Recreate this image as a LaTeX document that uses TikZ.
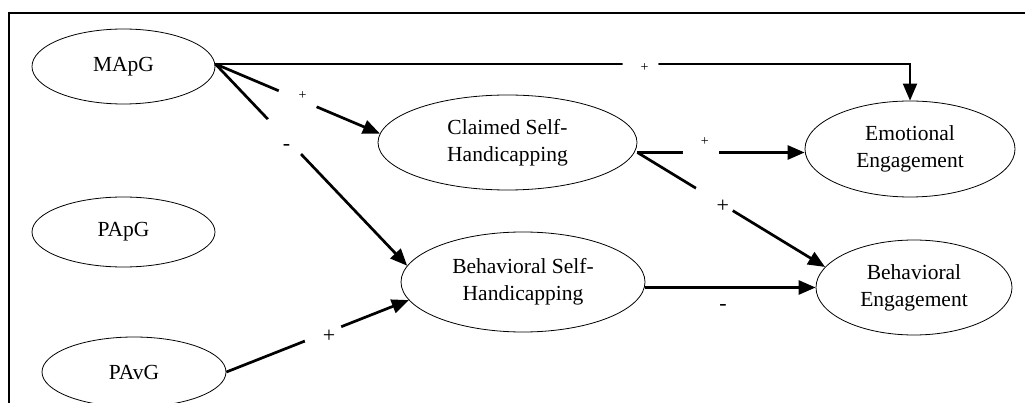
\documentclass[tikz,border=0pt]{standalone}
\usepackage{fontspec}
\setmainfont{Liberation Serif}
\usetikzlibrary{arrows.meta,shapes.geometric}
\begin{document}
\begin{tikzpicture}[x=1pt,y=-1pt,
  var/.style={draw, ellipse, line width=0.8pt, inner sep=0pt, align=center,
              font=\fontsize{21.5}{27}\selectfont},
  arr/.style={line width=2.7pt, -{Triangle[length=17pt,width=14pt]}},
  gapnode/.style={circle, fill=white, inner sep=0pt, minimum size=#1},
  smalllab/.style={font=\fontsize{14}{16}\selectfont},
  biglab/.style={font=\fontsize{22}{25}\selectfont}]
\useasboundingbox (0,0) rectangle (1025,403);
% frame
\draw[line width=1.8pt] (1030,13) -- (9,13) -- (9,410);
% variables
\node[var, minimum width=183pt, minimum height=75pt] (MApG) at (123.5,66.5) {MApG};
\node[var, minimum width=183pt, minimum height=70pt] (PApG) at (123.5,232) {PApG};
\node[var, minimum width=184pt, minimum height=70pt] (PAvG) at (134,372) {PAvG};
\node[var, minimum width=259pt, minimum height=95pt] (CSH) at (507.5,142.5) {Claimed Self-\\Handicapping};
\node[var, minimum width=244pt, minimum height=100pt] (BSH) at (523,282) {Behavioral Self-\\Handicapping};
\node[var, minimum width=210pt, minimum height=96pt] (EE) at (910,149) {Emotional\\Engagement};
\node[var, minimum width=196pt, minimum height=95pt] (BE) at (914,287.5) {Behavioral\\Engagement};
\coordinate (m) at ([yshift=2.5pt]MApG.east);
\coordinate (cs) at ([yshift=-10pt]CSH.east);
% connectors
\draw[line width=2pt, -{Triangle[length=17pt,width=14pt]}] (m) -| node[gapnode=36pt, pos=0.306, label={[smalllab, xshift=4pt, yshift=-4pt]center:+}] (g1) {} (EE.north);
\draw[arr] (m) -- node[gapnode=41pt, pos=0.5, label={[smalllab, xshift=5pt, yshift=3.5pt]center:+}] (g2) {} (CSH.176);
\draw[arr] (m) -- node[gapnode=48pt, pos=0.36, label={[biglab, xshift=2pt, yshift=-11pt]center:-}] (g3) {} (BSH.172);
\draw[arr] (PAvG.east) -- node[gapnode=39pt, pos=0.53, label={[biglab, xshift=6pt, yshift=-2pt]center:+}] (g4) {} (BSH.189);
\draw[arr] (cs) -- node[gapnode=36pt, pos=0.38, label={[smalllab, xshift=4pt, yshift=11pt]center:+}] (g5) {} (cs -| EE.west);
\draw[arr] (cs) -- node[gapnode=43pt, pos=0.41, label={[biglab, xshift=8.5pt, yshift=-7pt]center:+}] (g6) {} (BE.167.5);
\draw[arr] (BSH.east |- BE.west) -- node[pos=0.456, yshift=-20pt, biglab] (l7) {-} (BE.west);
\end{tikzpicture}
\end{document}
